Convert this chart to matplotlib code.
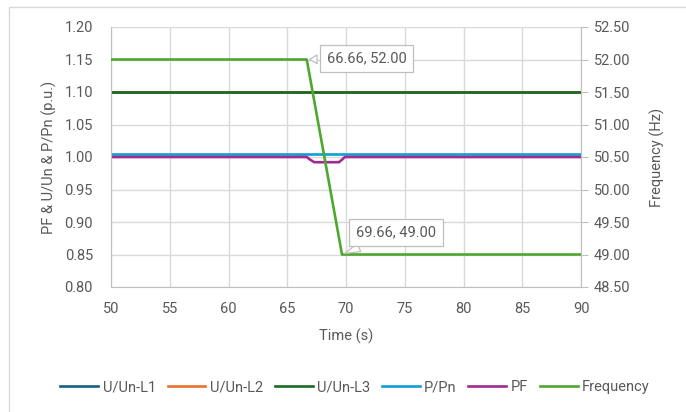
import matplotlib
matplotlib.use("Agg")
import matplotlib.pyplot as plt
from matplotlib.patches import Rectangle

plt.rcParams['font.family'] = ['Roboto', 'DejaVu Sans']

# ---- data ----
time_uv = [50, 90]
u_l1 = [1.10, 1.10]
u_l2 = [1.10, 1.10]
u_l3 = [1.10, 1.10]
p_pn = [1.005, 1.005]
pf_time = [50, 66.66, 66.9, 67.3, 69.4, 69.7, 69.9, 90]
pf_vals = [1.000, 1.000, 0.9965, 0.992, 0.992, 0.9965, 1.000, 1.000]
freq_time = [50, 66.66, 69.66, 90]
freq_vals = [52.00, 52.00, 49.00, 49.00]
labels = ["U/Un-L1", "U/Un-L2", "U/Un-L3", "P/Pn", "PF", "Frequency"]
colors = ["#156082", "#E97132", "#196B24", "#0F9ED5", "#A02B93", "#4EA72E"]
x_ticks = [50, 55, 60, 65, 70, 75, 80, 85, 90]
y_ticks = [0.80, 0.85, 0.90, 0.95, 1.00, 1.05, 1.10, 1.15, 1.20]
f_ticks = [48.5, 49.0, 49.5, 50.0, 50.5, 51.0, 51.5, 52.0, 52.5]
callouts = [(66.66, 52.00), (69.66, 49.00)]

txt = "#595959"
grid = "#D9D9D9"
lw = 1.9

fig = plt.figure(figsize=(6.86, 4.12), dpi=100)
fig.patches.append(Rectangle((9/686, -0.1), 1.2, 1 - 7/412 + 0.1,
                             transform=fig.transFigure, fill=False,
                             ec=grid, lw=1.0))
ax = fig.add_axes([111/686, 1 - 287/412, 470/686, 260/412])
ax2 = ax.twinx()

h = []
h += ax.plot(time_uv, u_l1, color=colors[0], lw=lw, label=labels[0])
h += ax.plot(time_uv, u_l2, color=colors[1], lw=lw, label=labels[1])
h += ax.plot(time_uv, u_l3, color=colors[2], lw=lw, label=labels[2])
h += ax.plot(time_uv, p_pn, color=colors[3], lw=lw, label=labels[3])
h += ax.plot(pf_time, pf_vals, color=colors[4], lw=lw, label=labels[4])
h += ax2.plot(freq_time, freq_vals, color=colors[5], lw=lw, label=labels[5])

ax.set_xlim(50, 90)
ax.set_ylim(0.80, 1.20)
ax2.set_ylim(48.5, 52.5)
ax.set_xticks(x_ticks)
ax.set_yticks(y_ticks)
ax.set_yticklabels([f"{v:.2f}" for v in y_ticks])
ax2.set_yticks(f_ticks)
ax2.set_yticklabels([f"{v:.2f}" for v in f_ticks])

ax.grid(True, color=grid, lw=1.0)
ax.set_axisbelow(True)
for a in (ax, ax2):
    for s in a.spines.values():
        s.set_visible(False)
ax.spines['left'].set_visible(True)
ax.spines['bottom'].set_visible(True)
ax.spines['left'].set_color("#BFBFBF")
ax.spines['bottom'].set_color("#BFBFBF")
ax2.spines['right'].set_visible(True)
ax2.spines['right'].set_color("#BFBFBF")

ax.tick_params(axis='y', length=0, labelsize=10.5, labelcolor=txt, pad=13)
ax.tick_params(axis='x', length=0, labelsize=10.5, labelcolor=txt, pad=11)
ax2.tick_params(axis='y', length=5, color="#BFBFBF", labelsize=10.5, labelcolor=txt, pad=4)

ax.set_xlabel("Time (s)", fontsize=10.5, color=txt, labelpad=9)
ax.set_ylabel("PF & U/Un & P/Pn (p.u.)", fontsize=10.5, color=txt, labelpad=5)
ax2.set_ylabel("Frequency (Hz)", fontsize=10.5, color=txt, labelpad=14)

offsets = [(60, 1), (54, 22)]
for (cx, cy), off in zip(callouts, offsets):
    ax2.annotate(f"{cx:.2f}, {cy:.2f}", xy=(cx, cy), xytext=off,
                 textcoords='offset pixels', ha='center', va='center',
                 fontsize=10.5, color=txt,
                 bbox=dict(boxstyle='square,pad=0.45', fc='white', ec='#BFBFBF', lw=0.9),
                 arrowprops=dict(arrowstyle='wedge,tail_width=0.6,shrink_factor=0.5',
                                 fc='white', ec='#BFBFBF', lw=0.9))

fig.legend(handles=h, labels=labels, loc='center', bbox_to_anchor=(355/686, 1 - 387/412),
           ncol=6, frameon=False, fontsize=10.5, labelcolor=txt,
           handlelength=2.6, handletextpad=0.3, columnspacing=0.8)

fig.savefig("out.png", dpi=100)
